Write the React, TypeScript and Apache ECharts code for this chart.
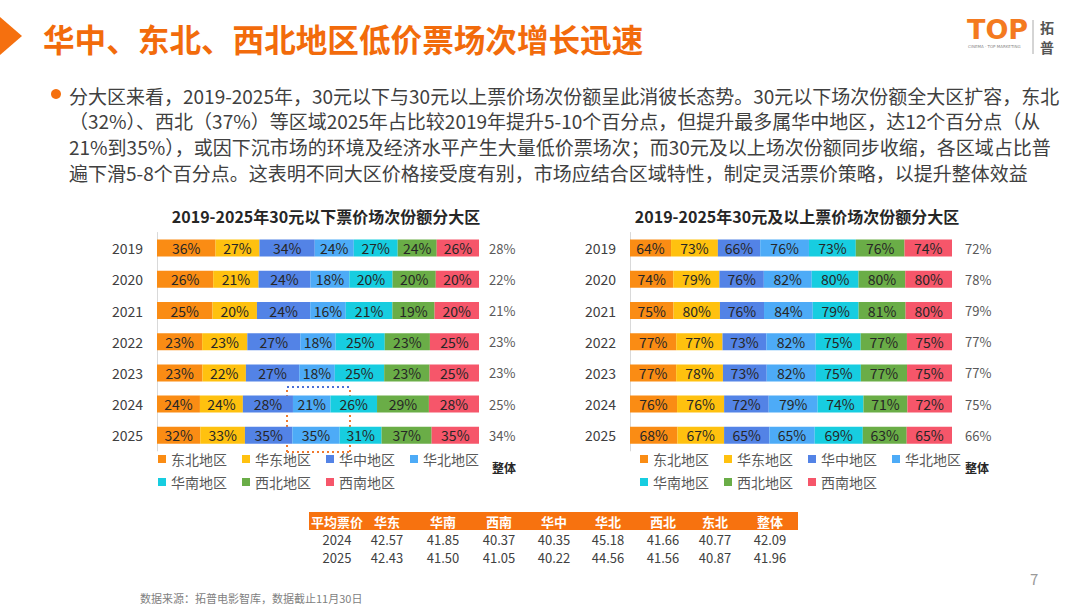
import React, { useEffect, useRef } from 'react';
import * as echarts from 'echarts';

const FONT = '"Noto Sans CJK SC", "Noto Sans", sans-serif';

const years = ['2019', '2020', '2021', '2022', '2023', '2024', '2025'];
const regions = ['东北地区', '华东地区', '华中地区', '华北地区', '华南地区', '西北地区', '西南地区'];
const regionColors = ['#FA8C14', '#FFC10F', '#5383E6', '#4DABF7', '#17CDE0', '#6AAD47', '#F6566A'];

// 30元以下 share by region (per year 2019..2025)
const belowDongbei = [36, 26, 25, 23, 23, 24, 32];
const belowHuadong = [27, 21, 20, 23, 22, 24, 33];
const belowHuazhong = [34, 24, 24, 27, 27, 28, 35];
const belowHuabei = [24, 18, 16, 18, 18, 21, 35];
const belowHuanan = [27, 20, 21, 25, 25, 26, 31];
const belowXibei = [24, 20, 19, 23, 23, 29, 37];
const belowXinan = [26, 20, 20, 25, 25, 28, 35];
const belowOverall = [28, 22, 21, 23, 23, 25, 34];

// 30元及以上 share by region
const aboveDongbei = [64, 74, 75, 77, 77, 76, 68];
const aboveHuadong = [73, 79, 80, 77, 78, 76, 67];
const aboveHuazhong = [66, 76, 76, 73, 73, 72, 65];
const aboveHuabei = [76, 82, 84, 82, 82, 79, 65];
const aboveHuanan = [73, 80, 79, 75, 75, 74, 69];
const aboveXibei = [76, 80, 81, 77, 77, 71, 63];
const aboveXinan = [74, 80, 80, 75, 75, 72, 65];
const aboveOverall = [72, 78, 79, 77, 77, 75, 66];

// average ticket price table
const tableHeader = ['平均票价', '华东', '华南', '西南', '华中', '华北', '西北', '东北', '整体'];
const tableYears = ['2024', '2025'];
const price2024 = ['42.57', '41.85', '40.37', '40.35', '45.18', '41.66', '40.77', '42.09'];
const price2025 = ['42.43', '41.50', '41.05', '40.22', '44.56', '41.56', '40.87', '41.96'];

const paragraphLines = [
  '分大区来看，2019-2025年，30元以下与30元以上票价场次份额呈此消彼长态势。30元以下场次份额全大区扩容，东北',
  '（32%）、西北（37%）等区域2025年占比较2019年提升5-10个百分点，但提升最多属华中地区，达12个百分点（从',
  '21%到35%），或因下沉市场的环境及经济水平产生大量低价票场次；而30元及以上场次份额同步收缩，各区域占比普',
  '遍下滑5-8个百分点。这表明不同大区价格接受度有别，市场应结合区域特性，制定灵活票价策略，以提升整体效益',
];

const belowCols = [belowDongbei, belowHuadong, belowHuazhong, belowHuabei, belowHuanan, belowXibei, belowXinan];
const aboveCols = [aboveDongbei, aboveHuadong, aboveHuazhong, aboveHuabei, aboveHuanan, aboveXibei, aboveXinan];

function makeSeries(stack: string, cols: number[][], gridIdx: number) {
  const sums = years.map((_, i) => cols.reduce((s, c) => s + c[i], 0));
  return regions.map((name, k) => ({
    type: 'bar',
    name,
    stack,
    xAxisIndex: gridIdx,
    yAxisIndex: gridIdx * 2,
    barWidth: 17,
    itemStyle: { color: regionColors[k] },
    label: {
      show: true,
      position: 'inside',
      formatter: (p: any) => cols[k][p.dataIndex] + '%',
      fontSize: 14,
      color: '#262626',
      fontFamily: FONT,
    },
    data: cols[k].map((v, i) => (v / sums[i]) * 100),
  }));
}

function txt(text: string, x: number, y: number, o: any = {}) {
  return {
    type: 'text',
    silent: true,
    style: {
      text,
      x,
      y,
      fill: o.fill || '#404040',
      fontSize: o.fontSize || 13,
      fontWeight: o.fontWeight || 'normal',
      fontFamily: o.fontFamily || FONT,
      align: o.align || 'left',
      verticalAlign: 'middle',
      textAlign: o.align || 'left',
      textVerticalAlign: 'middle',
    },
  };
}

function dotted(x1: number, y1: number, x2: number, y2: number, color: string) {
  return {
    type: 'line',
    silent: true,
    shape: { x1, y1, x2, y2 },
    style: { stroke: color, lineWidth: 2, lineDash: [2, 3] },
  };
}

export default function App() {
  const ref = useRef<HTMLDivElement>(null);
  useEffect(() => {
    document.body.style.margin = '0';
    const chart = echarts.init(ref.current!, null, { renderer: 'svg' });

    const gridTop = 232.5;
    const gridH = 218.4;
    const grids = [
      { left: 157, top: gridTop, width: 322, height: gridH },
      { left: 630, top: gridTop, width: 322, height: gridH },
    ];

    const xAxes = [0, 1].map((g) => ({
      type: 'value',
      gridIndex: g,
      min: 0,
      max: 100,
      show: false,
    }));

    const yearAxis = (g: number) => ({
      type: 'category',
      gridIndex: g,
      data: years,
      inverse: true,
      axisLine: { show: true, lineStyle: { color: '#d9d9d9', width: 1 } },
      axisTick: { show: false },
      axisLabel: { fontSize: 14, color: '#404040', margin: 14, fontFamily: FONT },
    });
    const overallAxis = (g: number, vals: number[], margin: number) => ({
      type: 'category',
      gridIndex: g,
      position: 'right',
      data: vals.map((v) => v + '%'),
      inverse: true,
      axisLine: { show: false },
      axisTick: { show: false },
      axisLabel: { fontSize: 13, color: '#595959', margin, fontFamily: FONT },
    });

    const legendBase = {
      orient: 'horizontal',
      itemWidth: 8,
      itemHeight: 8,
      itemGap: 15,
      icon: 'rect',
      padding: 0,
      textStyle: { fontSize: 14, color: '#595959', fontFamily: FONT, width: 56 },
    };

    const graphics: any[] = [];
    // slide title
    graphics.push({
      type: 'polygon',
      silent: true,
      shape: { points: [[0, 17], [22, 36], [0, 55]] },
      style: { fill: '#F5700F' },
    });
    graphics.push(txt('华中、东北、西北地区低价票场次增长迅速', 43, 38, { fontSize: 31.6, fontWeight: 'bold', fill: '#F26B0B' }));
    // logo
    graphics.push(txt('TOP', 967, 29, { fontSize: 27, fontWeight: 'bold', fill: '#F47A20', fontFamily: '"DejaVu Sans", sans-serif' }));
    graphics.push(txt('CINEMA · TOP MARKETING', 968, 46, { fontSize: 4, fill: '#888888', fontFamily: '"DejaVu Sans", sans-serif' }));
    graphics.push({
      type: 'line',
      silent: true,
      shape: { x1: 1033, y1: 20, x2: 1033, y2: 54 },
      style: { stroke: '#aaaaaa', lineWidth: 1 },
    });
    graphics.push(txt('拓', 1040, 27, { fontSize: 14, fontWeight: 'bold', fill: '#555555' }));
    graphics.push(txt('普', 1040, 47, { fontSize: 14, fontWeight: 'bold', fill: '#555555' }));
    // paragraph
    graphics.push({ type: 'circle', silent: true, shape: { cx: 56, cy: 94, r: 5 }, style: { fill: '#F5700F' } });
    paragraphLines.forEach((l, i) => {
      graphics.push(txt(l, 69, 95 + i * 25.8, { fontSize: 19, fill: '#404040' }));
    });
    // 整体 labels
    graphics.push(txt('整体', 492, 467, { fontSize: 12, fontWeight: 'bold', fill: '#262626' }));
    graphics.push(txt('整体', 965, 467, { fontSize: 12, fontWeight: 'bold', fill: '#262626' }));
    // dotted box annotation
    graphics.push(dotted(287, 387, 350, 387, '#4A6FD8'));
    graphics.push(dotted(287, 390, 287, 452, '#F07A2E'));
    graphics.push(dotted(350, 390, 350, 452, '#F07A2E'));
    graphics.push(dotted(287, 452, 350, 452, '#F07A2E'));
    // table
    const colX = [337, 387, 443, 499, 554, 608, 663, 715, 770];
    graphics.push({
      type: 'rect',
      silent: true,
      shape: { x: 309, y: 512, width: 489, height: 18 },
      style: { fill: '#F7720F' },
    });
    tableHeader.forEach((h, i) => {
      graphics.push(txt(h, colX[i], 521, { fontSize: 13, fontWeight: 'bold', fill: '#ffffff', align: 'center' }));
    });
    [price2024, price2025].forEach((row, r) => {
      const y = 539 + r * 18;
      graphics.push(txt(tableYears[r], colX[0], y, { fontSize: 13, fill: '#404040', align: 'center' }));
      row.forEach((v, i) => {
        graphics.push(txt(v, colX[i + 1], y, { fontSize: 13, fill: '#404040', align: 'center' }));
      });
    });
    // footer
    graphics.push(txt('数据来源：拓普电影智库，数据截止11月30日', 140, 598, { fontSize: 11, fill: '#7f7f7f' }));
    graphics.push(txt('7', 1030, 578, { fontSize: 15, fill: '#9a9a9a' }));

    const option: any = {
      animation: false,
      backgroundColor: '#ffffff',
      textStyle: { fontFamily: FONT },
      title: [
        {
          text: '2019-2025年30元以下票价场次份额分大区',
          left: 321,
          top: 203,
          textAlign: 'center',
          textStyle: { fontSize: 16, fontWeight: 'bold', color: '#262626', fontFamily: FONT },
        },
        {
          text: '2019-2025年30元及以上票价场次份额分大区',
          left: 792,
          top: 203,
          textAlign: 'center',
          textStyle: { fontSize: 16, fontWeight: 'bold', color: '#262626', fontFamily: FONT },
        },
      ],
      legend: [
        { ...legendBase, left: 158, top: 452, data: regions.slice(0, 4) },
        { ...legendBase, left: 158, top: 475, data: regions.slice(4) },
        { ...legendBase, left: 640, top: 452, data: regions.slice(0, 4) },
        { ...legendBase, left: 640, top: 475, data: regions.slice(4) },
      ],
      grid: grids,
      xAxis: xAxes,
      yAxis: [yearAxis(0), overallAxis(0, belowOverall, 10), yearAxis(1), overallAxis(1, aboveOverall, 13)],
      series: [...makeSeries('below', belowCols, 0), ...makeSeries('above', aboveCols, 1)],
      graphic: graphics,
    };
    chart.setOption(option);
    return () => chart.dispose();
  }, []);
  return <div ref={ref} style={{ width: 1080, height: 608 }} />;
}
